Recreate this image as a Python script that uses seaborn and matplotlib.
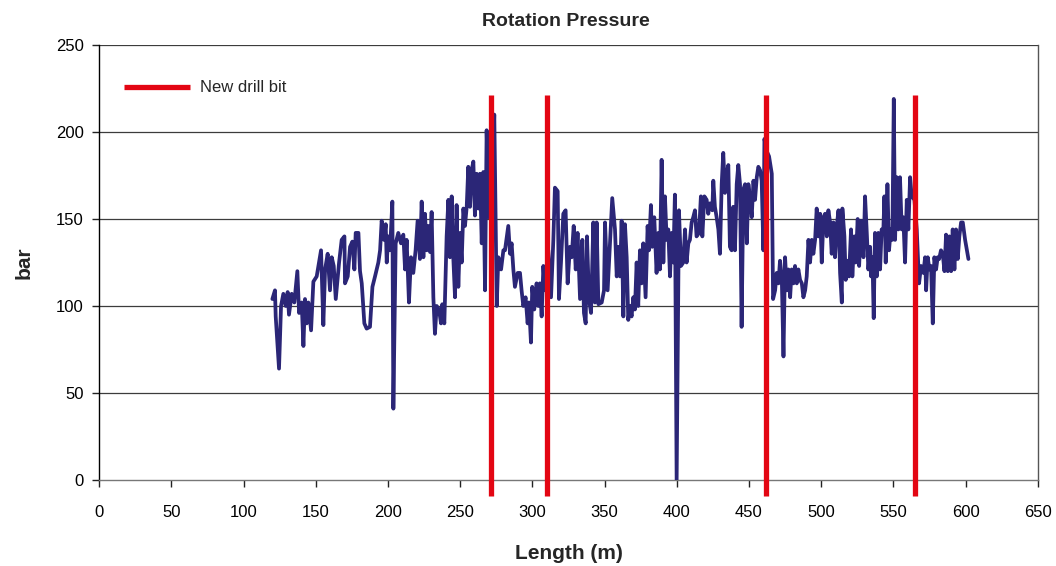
import matplotlib
matplotlib.use("Agg")
import matplotlib.pyplot as plt
import seaborn as sns
import pandas as pd

length_m = [
    119.9, 121.7, 122.2, 124.5, 125.9, 127.5, 129.1, 130.5, 131.4, 133.3,
    135.1, 137.2, 138.4, 140.2, 141.4, 142.5, 143.7, 144.8, 146.7, 148.3,
    150.6, 152.2, 153.6, 155.2, 156.4, 158.2, 159.8, 161.0, 162.4, 163.8,
    166.1, 167.9, 169.8, 170.2, 172.1, 173.7, 175.3, 176.7, 177.6, 179.5,
    180.6, 181.8, 183.6, 185.2, 187.5, 189.2, 191.0, 193.3, 194.5, 195.6,
    197.2,
    198.4, 199.1, 200.2, 201.4, 203.0, 203.7, 205.3, 207.1, 209.0, 210.6,
    211.8, 212.9, 214.5, 215.9, 217.5, 219.1, 220.5, 222.1, 223.3, 224.5,
    225.6, 226.8, 227.9, 229.1, 230.2, 231.4, 232.5, 233.7, 235.3, 236.7,
    237.6, 239.0, 240.6, 241.8, 242.9, 244.1, 245.2, 246.4, 247.5, 248.7,
    249.9, 251.0, 252.2, 253.3, 254.5, 255.6, 256.8, 257.9, 259.1, 260.2,
    261.4, 262.6, 263.7, 264.9, 266.0, 267.2, 268.3, 269.9, 271.8, 273.6,
    275.3, 276.4, 278.3, 279.9,
    281.0, 283.3, 284.5, 285.6, 286.8, 287.9, 289.8, 291.4, 292.5, 293.7,
    295.3, 296.7, 297.6, 299.0, 299.9, 301.3, 302.9, 304.1, 305.2, 306.4,
    307.6, 308.7, 311.0, 312.9, 314.5, 315.6, 317.5, 318.4, 319.8, 321.4,
    323.0, 324.4, 326.0, 327.2, 328.6, 330.0, 331.3, 333.0, 334.6, 335.7,
    336.9, 337.8, 339.2, 340.6, 342.2, 343.3, 344.5, 345.7, 348.0, 349.6,
    350.3, 352.1, 353.7, 355.3, 357.2, 358.4, 359.5, 360.7, 361.8, 363.0,
    364.1, 365.3, 366.4, 367.6, 368.7, 369.9, 371.0, 372.2, 373.3, 374.5,
    375.6, 376.8, 378.4, 379.8, 380.7, 382.1, 383.0, 384.4, 386.0, 387.2,
    388.3, 389.5, 390.7, 391.8, 393.0, 394.1, 395.3, 396.4, 397.6, 398.7,
    399.9, 401.5, 402.9, 404.5, 405.7, 406.8, 408.0, 409.1, 410.3, 411.4,
    412.6, 413.7, 415.4, 416.7, 417.7, 419.1, 420.7, 421.8, 423.0, 424.6,
    425.3, 426.4, 427.6, 428.8, 429.9, 431.1, 432.2, 433.4, 434.5, 435.7,
    436.8, 438.0, 439.1, 440.3, 441.5, 442.6, 443.8, 444.9, 446.1,
    447.3, 448.5, 449.6, 450.8, 451.9, 453.1, 454.2, 455.4, 456.5, 457.7,
    458.8, 460.0, 460.7, 462.3, 463.9, 465.8, 466.7, 468.1, 469.2, 470.4,
    471.5, 472.7, 473.9, 475.0, 476.2, 477.3, 478.5, 479.6, 480.8, 481.9,
    483.1, 484.2, 485.4, 486.6, 487.7, 488.9, 490.0, 491.2, 492.3, 493.5,
    494.6, 495.8, 496.9, 498.1, 499.3, 500.4, 501.6, 502.7, 503.9, 505.0,
    506.2, 507.3, 508.5, 509.6, 510.8, 512.0, 513.1, 514.3, 514.7, 516.1,
    517.0, 518.2, 519.3, 520.7, 521.6, 523.0, 523.9, 525.3, 526.3, 527.6,
    529.3,
    530.4, 531.6, 532.7, 533.9, 534.6, 535.5, 536.4, 537.3, 538.5, 539.6,
    540.8, 541.9, 543.1, 543.8, 544.7, 545.9, 547.0, 548.2, 549.3, 550.3,
    551.2, 552.3, 553.5, 554.6, 555.8, 556.9, 558.1, 559.3, 560.4, 561.6,
    562.7, 564.6, 566.2, 567.8, 569.2, 570.8, 572.0, 572.7, 573.8, 575.0,
    576.1, 577.3, 578.4, 579.6, 580.7, 581.7, 583.0, 584.2, 585.4, 586.5,
    587.7, 588.8, 590.0, 591.1, 592.3, 593.4, 594.6, 595.7, 596.9, 598.1,
    599.7, 602.0,
]

pressure_bar = [
    104, 109, 94, 64, 100, 107, 100, 108, 95, 107,
    102, 120, 96, 102, 77, 104, 90, 102, 86, 114,
    117, 125, 132, 89, 121, 130, 109, 128, 123, 104,
    125, 138, 140, 113, 117, 134, 137, 121, 142, 142,
    120, 113, 90, 87, 88, 111, 117, 125, 132, 149,
    138,
    147, 125, 140, 132, 160, 41, 136, 142, 136, 141,
    121, 138, 102, 128, 119, 132, 149, 127, 160, 128,
    153, 132, 146, 131, 154, 105, 84, 100, 98, 90,
    101, 90, 140, 161, 128, 163, 128, 105, 158, 111,
    142, 125, 156, 146, 157, 180, 157, 178, 183, 152,
    176, 156, 176, 136, 177, 109, 201, 151, 165, 210,
    100, 128, 121, 132,
    132, 146, 130, 136, 121, 111, 119, 119, 109, 100,
    105, 90, 102, 79, 111, 98, 113, 100, 113, 94,
    123, 109, 132, 105, 138, 168, 166, 104, 125, 153,
    155, 113, 134, 128, 146, 121, 142, 104, 138, 96,
    90, 140, 104, 96, 148, 102, 148, 101, 102, 109,
    148, 109, 136, 162, 144, 117, 134, 117, 149, 94,
    147, 128, 92, 100, 94, 105, 98, 125, 100, 132,
    113, 136, 105, 146, 132, 158, 134, 151, 119, 142,
    121, 184, 125, 163, 138, 144, 117, 142, 125, 164,
    0, 155, 123, 125, 144, 125, 136, 138, 148, 151,
    155, 140, 142, 163, 140, 163, 161, 153, 159, 155,
    172, 157, 151, 144, 130, 170, 188, 165, 176, 181,
    134, 132, 157, 132, 170, 181, 170, 88, 167,
    170, 136, 170, 161, 151, 172, 161, 174, 180, 178,
    172, 132, 196, 189, 186, 176, 104, 109, 119, 113,
    126, 117, 71, 128, 109, 121, 105, 121, 113, 123,
    113, 121, 115, 113, 105, 109, 117, 138, 125, 138,
    130, 138, 156, 140, 153, 125, 151, 153, 140, 155,
    148, 130, 148, 128, 146, 155, 119, 102, 156, 140,
    115, 126, 117, 144, 117, 140, 125, 150, 123, 149,
    128,
    163, 142, 121, 134, 117, 128, 93, 142, 117, 142,
    121, 144, 144, 163, 125, 170, 132, 144, 138, 219,
    138, 174, 144, 174, 144, 151, 125, 161, 144, 174,
    163, 161, 144, 113, 123, 119, 128, 109, 128, 121,
    123, 90, 128, 121, 128, 127, 132, 130, 120, 141,
    120, 140, 120, 144, 121, 144, 127, 140, 148, 148,
    138, 127,
]

new_bit_at = [271, 310, 462, 565]
bit_line_bottom = -9
bit_line_top = 221

x_ticks = list(range(0, 651, 50))
y_ticks = list(range(0, 251, 50))

sns.set_theme(style="white")
plt.rcParams["font.family"] = ["Liberation Sans", "DejaVu Sans"]

fig = plt.figure(figsize=(10.56, 5.66), dpi=100)
ax = fig.add_axes([0.094, 0.152, 0.8887, 0.7685])

df = pd.DataFrame({"Length (m)": length_m, "bar": pressure_bar})

for y in y_ticks[1:]:
    ax.axhline(y, color="#3c3c3c", lw=0.9, zorder=0)

sns.lineplot(data=df, x="Length (m)", y="bar", ax=ax, color="#2B2677",
             lw=2.7, estimator=None, sort=False, zorder=3)

for i, xb in enumerate(new_bit_at):
    ax.plot([xb, xb], [bit_line_bottom, bit_line_top], color="#E30613",
            lw=3.8, solid_capstyle="butt", clip_on=False, zorder=4,
            label="New drill bit" if i == 0 else None)

ax.set_xlim(0, 650)
ax.set_ylim(0, 250)
ax.set_xticks(x_ticks)
ax.set_yticks(y_ticks)
ax.tick_params(axis="both", labelsize=12, length=5, width=1, color="#222222",
               direction="out", bottom=True, left=True)
ax.tick_params(axis="x", pad=13)
ax.tick_params(axis="y", pad=6)
for lab in ax.get_xticklabels() + ax.get_yticklabels():
    lab.set_color("black")

ax.spines["top"].set_visible(False)
ax.spines["left"].set_color("black")
ax.spines["left"].set_linewidth(1.0)
ax.spines["bottom"].set_color("#777777")
ax.spines["bottom"].set_linewidth(1.0)
ax.spines["right"].set_color("#555555")
ax.spines["right"].set_linewidth(1.0)

ax.set_xlabel("Length (m)", fontsize=15, fontweight="bold", labelpad=17)
ax.set_ylabel("bar", fontsize=15, fontweight="bold", labelpad=16)
fig.suptitle("Rotation Pressure", fontsize=14, fontweight="bold", x=0.536, y=0.977)

ax.legend(loc="upper left", bbox_to_anchor=(0.01, 0.953), frameon=False,
          fontsize=12, handlelength=4.0, handletextpad=0.6)

fig.savefig("out.png", dpi=100)
